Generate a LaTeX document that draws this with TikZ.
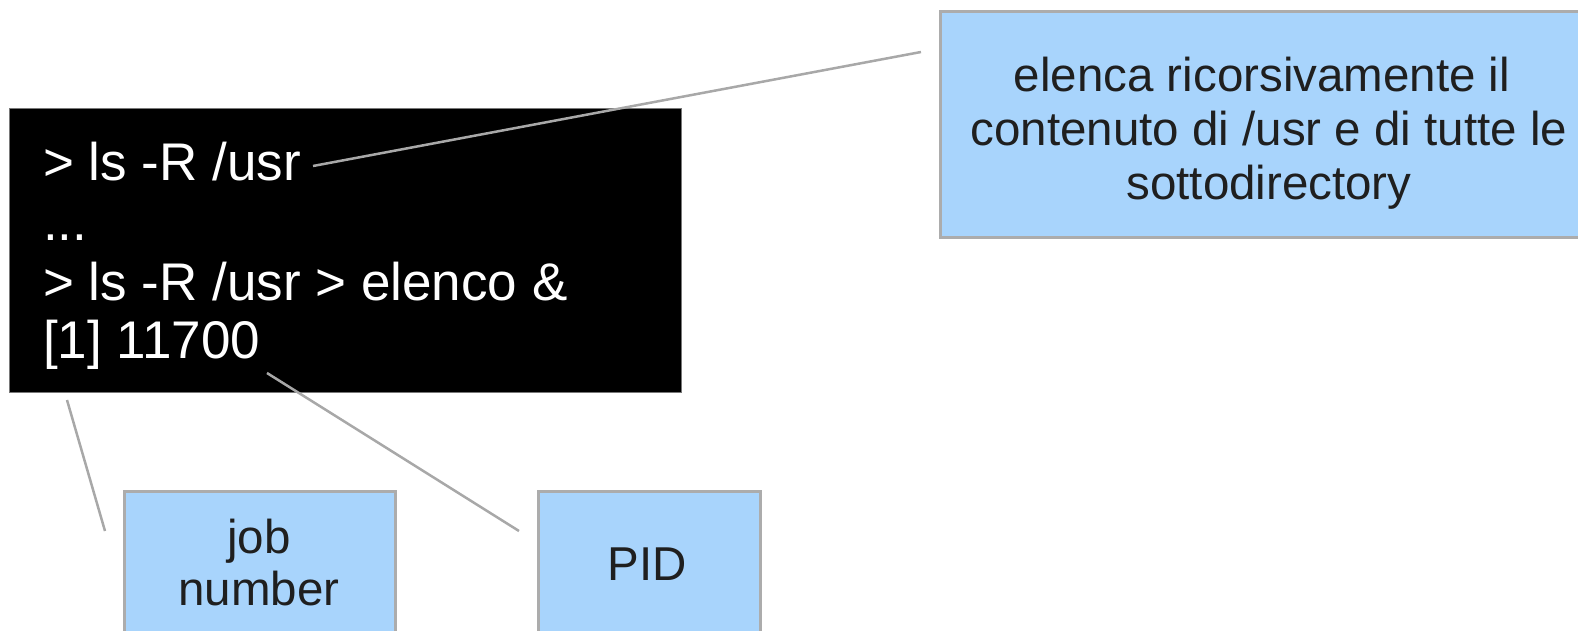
\documentclass[tikz,border=0pt]{standalone}
\usepackage{fontspec}
\setmainfont{Liberation Sans}
\definecolor{notefill}{RGB}{168,212,252}
\definecolor{noteedge}{RGB}{172,172,172}
\definecolor{leadergray}{RGB}{168,168,168}
\definecolor{termedge}{RGB}{120,120,120}
\begin{document}
\begin{tikzpicture}[x=1pt,y=-1pt,
  notebox/.style={fill=notefill,draw=noteedge,line width=3pt,anchor=north west,inner sep=0pt},
  termbox/.style={fill=black,draw=termedge,line width=1pt,anchor=north west,inner sep=0pt},
  termline/.style={anchor=base west,text=white,inner sep=0pt,font=\fontsize{53}{58}\selectfont},
  noteline/.style={anchor=base,text=black!88,inner sep=0pt,font=\fontsize{47.5}{53}\selectfont},
  leader/.style={draw=leadergray,line width=2.5pt}]
\path[use as bounding box] (0,0) rectangle (1578,631);
\clip (0,0) rectangle (1578,631);

% terminal window
\node[termbox,minimum width=672,minimum height=284] (term) at (9,108) {};
\node[termline] (cmd1) at (43,181) {> ls -R /usr};
\node[termline] (dots) at (43,240) {...};
\node[termline] (cmd2) at (43,300) {> ls -R /usr > elenco \&};
\node[termline] (job)  at (43,358) {[1] 11700};

% explanation boxes
\node[notebox,minimum width=680,minimum height=226] (desc) at (939,10) {};
\node[noteline] (d1) at (1262,92)  {elenca ricorsivamente il};
\node[noteline] (d2) at (1269,146) {contenuto di /usr e di tutte le};
\node[noteline] (d3) at (1269,199) {sottodirectory};

\node[notebox,minimum width=271,minimum height=170] (jobbox) at (123,490) {};
\node[noteline] (j1) at (259,553) {job};
\node[noteline] (j2) at (259,605) {number};

\node[notebox,minimum width=222,minimum height=170] (pidbox) at (537,490) {};
\node[noteline] (p1) at (647.5,580) {PID};

% leader lines
\coordinate (a1) at (313,166);
\coordinate (b1) at (921,52);
\coordinate (a2) at (67,400);
\coordinate (b2) at (105,531);
\coordinate (a3) at (267,373);
\coordinate (b3) at (519,531);
\draw[leader] (a1) -- (b1);
\draw[leader] (a2) -- (b2);
\draw[leader] (a3) -- (b3);
\end{tikzpicture}
\end{document}
